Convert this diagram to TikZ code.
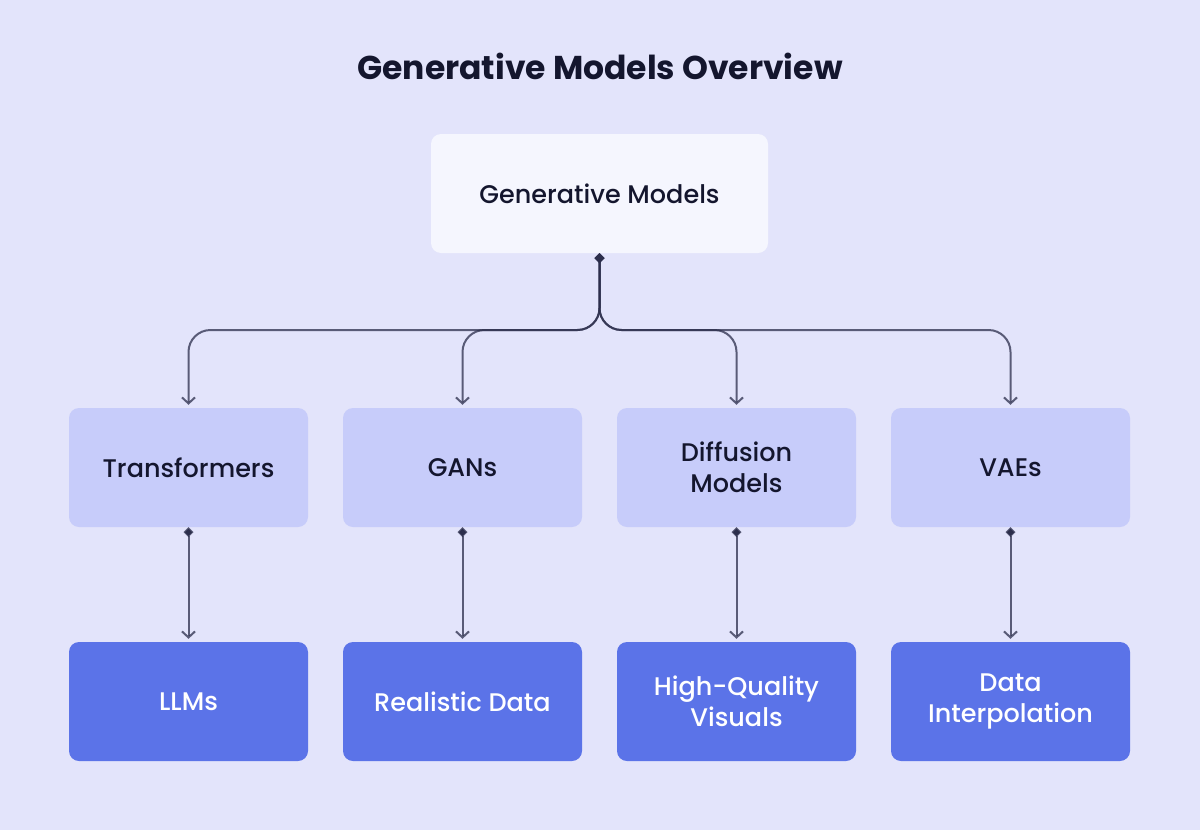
\documentclass[tikz,border=0pt]{standalone}
\usepackage{fontspec}
\setmainfont{Poppins}[UprightFont={* Medium}, BoldFont={* Bold}]
\usetikzlibrary{arrows.meta}
\definecolor{bg}{HTML}{E3E4FB}
\definecolor{rootfill}{HTML}{F5F6FE}
\definecolor{midfill}{HTML}{C7CCFA}
\definecolor{leaffill}{HTML}{5B73E8}
\definecolor{ink}{HTML}{14162E}
\definecolor{edge}{HTML}{2C2E4C}
\tikzset{
  box/.style={rectangle, rounded corners=10pt, minimum width=239pt, minimum height=119pt, align=center, inner sep=0pt, font=\fontsize{25.5}{31}\selectfont},
  rootbox/.style={box, fill=rootfill, minimum width=337pt, text=ink},
  midbox/.style={box, fill=midfill, text=ink},
  leafbox/.style={box, fill=leaffill, text=white},
  conn/.style={draw=edge, line width=2pt, draw opacity=0.75, {Diamond[length=10pt,width=10pt]}-{Straight Barb[length=6pt,width=13pt]}, shorten >=3pt},
}
\begin{document}
\begin{tikzpicture}[x=1pt,y=-1pt]
\fill[bg] (0,0) rectangle (1200,830);
\useasboundingbox (0,0) rectangle (1200,830);
\node[font=\fontsize{33}{40}\selectfont\bfseries, text=ink] (title) at (600,66) {Generative Models Overview};
\node[rootbox] (root) at (599.5,193.5) {Generative Models};
\node[midbox] (t1) at (188.5,467.5) {Transformers};
\node[midbox] (t2) at (462.5,467.5) {GANs};
\node[midbox] (t3) at (736.5,467.5) {Diffusion\\Models};
\node[midbox] (t4) at (1010.5,467.5) {VAEs};
\node[leafbox] (l1) at (188.5,701.5) {LLMs};
\node[leafbox] (l2) at (462.5,701.5) {Realistic Data};
\node[leafbox] (l3) at (736.5,701.5) {High-Quality\\Visuals};
\node[leafbox] (l4) at (1010.5,701.5) {Data\\Interpolation};
\coordinate (bus) at (599.5,330);
\foreach \t in {t1,t2,t3,t4}{
  \draw[conn, rounded corners=22pt] (root.south) -- (bus) -- (bus -| \t.north) -- (\t.north);
}
\foreach \a/\b in {t1/l1,t2/l2,t3/l3,t4/l4}{
  \draw[conn] (\a.south) -- (\b.north);
}
\end{tikzpicture}
\end{document}
